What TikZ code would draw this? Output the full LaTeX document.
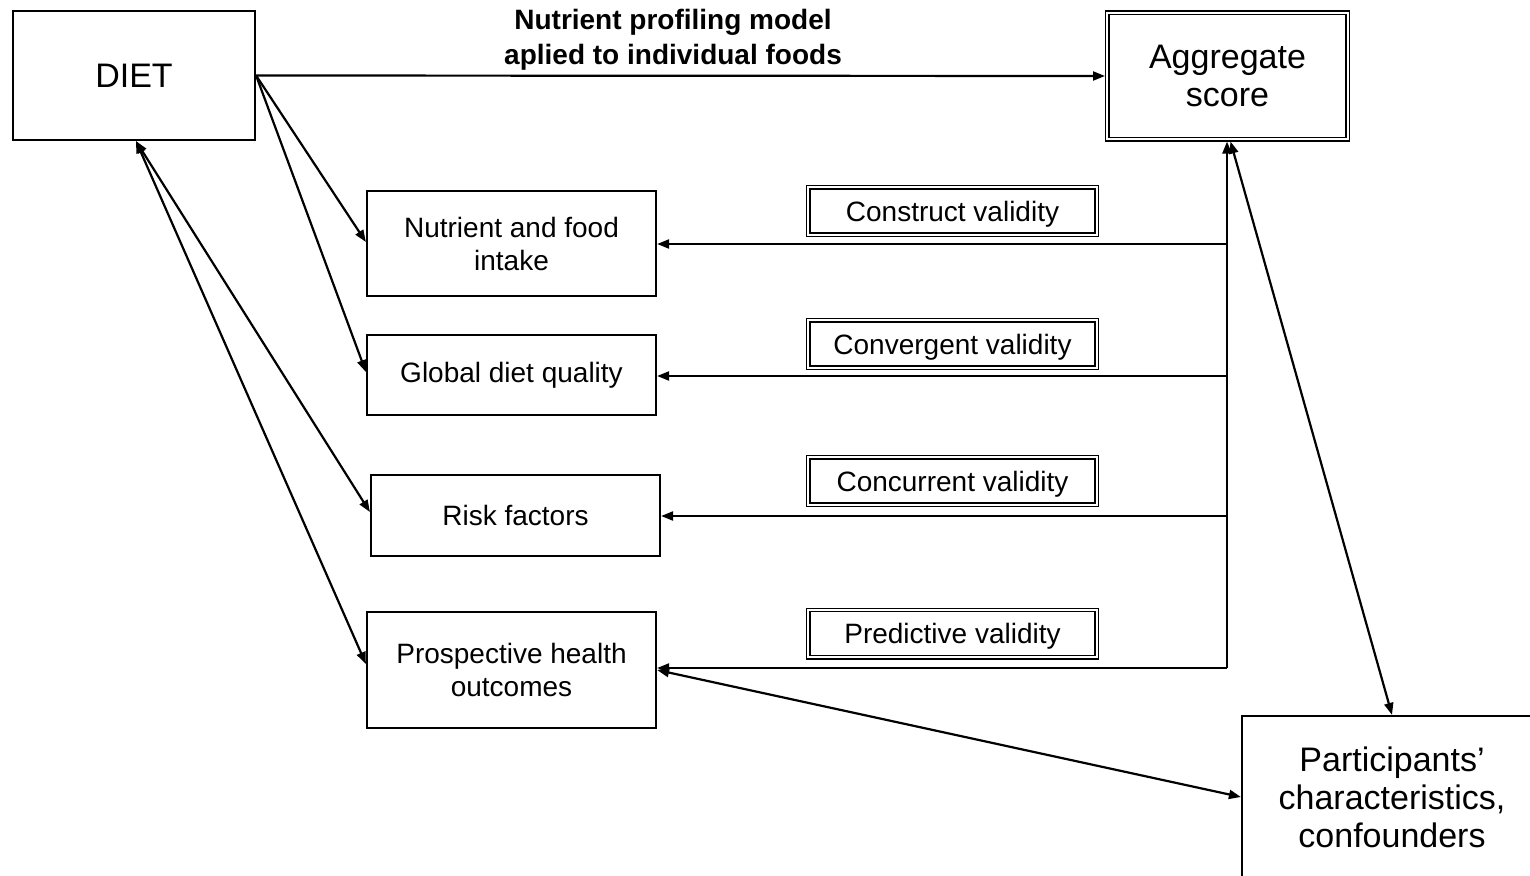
\documentclass[tikz,border=0pt]{standalone}
\usepackage{fontspec}
\setmainfont{Liberation Sans}
\usetikzlibrary{arrows.meta}
\begin{document}
\begin{tikzpicture}[x=1pt,y=-1pt,
  box/.style={draw, line width=2.2pt, align=center, inner sep=0pt, font=\fontsize{28}{33}\selectfont},
  bigbox/.style={box, font=\fontsize{34}{38}\selectfont},
  dbox/.style={draw, double, line width=1.2pt, double distance=2.2pt, outer sep=2.3pt, align=center, inner sep=0pt, font=\fontsize{28}{33}\selectfont},
  vbox/.style={dbox, minimum width=288.4pt, minimum height=47.4pt, text depth=0pt},
  arr/.style={line width=2.2pt, -{Triangle[length=12pt,width=9pt]}},
  darr/.style={line width=2.2pt, {Triangle[length=12pt,width=9pt]}-{Triangle[length=12pt,width=9pt]}},
]
\useasboundingbox (0,0) rectangle (1530,875);
\clip (0,0) rectangle (1530,875);

\node[bigbox, minimum width=242pt, minimum height=129pt] (diet) at (134,75.5) {DIET};
\node[dbox, font=\fontsize{34}{38}\selectfont, minimum width=240.4pt, minimum height=126.4pt] (agg) at (1227.5,76) {Aggregate\\score};
\node[font=\bfseries\fontsize{28}{35}\selectfont, align=center] (title) at (673,39.5) {Nutrient profiling model\\aplied to individual foods};

\node[box, minimum width=289pt, minimum height=105pt] (nut) at (511.5,243.5) {Nutrient and food\\intake};
\node[box, minimum width=289pt, minimum height=80pt] (glob) at (511.5,375) {Global diet quality};
\node[box, minimum width=289pt, minimum height=81pt] (risk) at (515.5,515.5) {Risk factors};
\node[box, minimum width=289pt, minimum height=116pt] (prosp) at (511.5,670) {Prospective health\\outcomes};
\node[bigbox, minimum width=300pt, minimum height=162pt] (part) at (1392,797) {Participants’\\characteristics,\\confounders};

\node[vbox] (cons) at (952.5,211) {Construct validity};
\node[vbox] (conv) at (952.5,344) {Convergent validity};
\node[vbox] (conc) at (952.5,481) {Concurrent validity};
\node[vbox] (pred) at (952.5,633.5) {Predictive validity};

\coordinate (s1) at (1227,244);
\coordinate (s2) at (1227,376);
\coordinate (s3) at (1227,516);
\coordinate (s4) at (1227,668);

\draw[arr] (s1) -- (s1 -| nut.east);
\draw[arr] (s2) -- (s2 -| glob.east);
\draw[arr] (s3) -- (s3 -| risk.east);
\draw[arr] (s4) -- (s4 -| prosp.east);
\draw[arr] (s4) -- (s4 |- agg.south);

\draw[darr] ([xshift=3pt]agg.south) -- (part.north);
\draw[darr] (prosp.east) -- (part.west);

\draw[arr] (diet.east) -- (agg.west);
\draw[arr] (diet.east) -- ([yshift=1.5pt]nut.west);
\draw[arr] (diet.east) -- ([yshift=3pt]glob.west);
\draw[darr] ([xshift=2pt]diet.south) -- ([yshift=3.5pt]risk.west);
\draw[darr] ([xshift=2pt]diet.south) -- ([yshift=6pt]prosp.west);
\end{tikzpicture}
\end{document}
